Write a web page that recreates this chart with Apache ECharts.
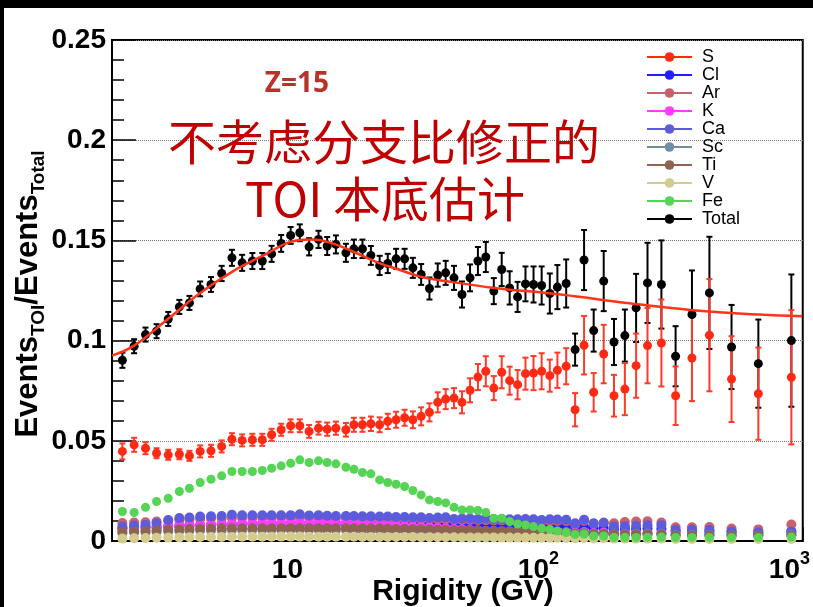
<!DOCTYPE html>
<html>
<head>
<meta charset="utf-8">
<script src="https://cdn.jsdelivr.net/npm/echarts@6/dist/echarts.min.js"></script>
<style>
html,body{margin:0;padding:0;background:#fff;}
#chart{width:813px;height:607px;}
</style>
</head>
<body>
<div id="chart"></div>
<script>
// Rigidity bin centres (GV)
const rigidity = [2.2,2.45,2.72,3.01,3.35,3.71,4.07,4.49,4.96,5.47,
  6.01,6.6,7.25,7.94,8.65,9.44,10.3,11.2,12.2,13.3,
  14.4,15.6,17.1,18.4,19.9,21.5,23.3,25.1,27.1,29.3,
  31.6,34.1,36.8,39.7,42.7,46.1,49.6,53.4,57.4,61.7,
  66.4,71.4,76.8,82.6,88.8,95.6,103,111,119,129,
  140,152,166,182,200,221,245,272,309,352,
  409,480,588,752,1018];

const totalVals = [0.0902,0.0972,0.1030,0.1047,0.1108,0.1168,0.1188,0.1258,0.1280,0.1335,
  0.1413,0.1388,0.1397,0.1397,0.1433,0.1485,0.1525,0.1538,0.1468,0.1505,
  0.1472,0.1480,0.1438,0.1458,0.1458,0.1425,0.1375,0.1385,0.1408,0.1408,
  0.1363,0.1330,0.1260,0.1327,0.1338,0.1313,0.1230,0.1313,0.1397,0.1417,
  0.1247,0.1355,0.1263,0.1218,0.1283,0.1280,0.1275,0.1235,0.1267,0.1285,
  0.0955,0.1402,0.1050,0.1297,0.0993,0.1025,0.1163,0.1288,0.1280,0.0922,
  0.1130,0.1238,0.0968,0.0885,0.1000];
const totalErr = [0.0038,0.0035,0.0035,0.0035,0.0035,0.0035,0.0035,0.0037,0.0037,0.0038,
  0.004,0.004,0.004,0.004,0.004,0.0042,0.0042,0.0042,0.0043,0.0043,
  0.0045,0.0045,0.0045,0.0046,0.0046,0.0047,0.0048,0.0048,0.005,0.005,
  0.005,0.0052,0.0055,0.0058,0.006,0.006,0.0065,0.0067,0.007,0.0075,
  0.0065,0.0083,0.0083,0.0075,0.0087,0.009,0.0095,0.01,0.011,0.012,
  0.008,0.015,0.0105,0.015,0.0115,0.013,0.017,0.02,0.022,0.015,
  0.022,0.028,0.021,0.022,0.033];

const sVals = [0.0447,0.0480,0.0463,0.0438,0.0430,0.0433,0.0425,0.0447,0.0450,0.0472,
  0.0508,0.0502,0.0505,0.0505,0.0530,0.0555,0.0575,0.0575,0.0547,0.0563,
  0.0558,0.0563,0.0555,0.0580,0.0580,0.0585,0.0580,0.0597,0.0605,0.0615,
  0.0605,0.0622,0.0642,0.0692,0.0708,0.0713,0.0692,0.0752,0.0818,0.0847,
  0.0763,0.0842,0.0800,0.0780,0.0835,0.0838,0.0847,0.0825,0.0852,0.0872,
  0.0655,0.0977,0.0742,0.0933,0.0725,0.0758,0.0875,0.0975,0.0988,0.0725,
  0.0913,0.1027,0.0808,0.0735,0.0817];
const sErr = [0.004,0.0035,0.003,0.0025,0.0025,0.0025,0.0025,0.003,0.003,0.003,
  0.003,0.003,0.003,0.003,0.003,0.003,0.0032,0.0032,0.0032,0.0032,
  0.0033,0.0033,0.0034,0.0035,0.0035,0.0036,0.0037,0.0038,0.004,0.004,
  0.0042,0.0045,0.0045,0.005,0.005,0.005,0.0055,0.006,0.0065,0.0075,
  0.006,0.008,0.007,0.0073,0.008,0.0085,0.009,0.008,0.0088,0.009,
  0.0083,0.0146,0.0096,0.0146,0.0104,0.013,0.016,0.0188,0.0217,0.0146,
  0.0215,0.028,0.0214,0.023,0.0335];

const clVals = [0.0062,0.0065,0.0068,0.0070,0.0073,0.0076,0.0078,0.0080,0.0081,0.0082,
  0.0083,0.0084,0.0085,0.0085,0.0085,0.0086,0.0086,0.0086,0.0086,0.0086,
  0.0086,0.0086,0.0085,0.0085,0.0085,0.0085,0.0085,0.0084,0.0084,0.0084,
  0.0083,0.0083,0.0082,0.0082,0.0082,0.0081,0.0081,0.0080,0.0080,0.0080,
  0.0079,0.0079,0.0078,0.0078,0.0078,0.0077,0.0077,0.0076,0.0076,0.0075,
  0.0065,0.0070,0.0062,0.0065,0.0058,0.0060,0.0060,0.0062,0.0060,0.0050,
  0.0050,0.0048,0.0045,0.0045,0.0048];
const arVals = [0.0090,0.0092,0.0094,0.0097,0.0100,0.0105,0.0108,0.0110,0.0112,0.0113,
  0.0115,0.0115,0.0116,0.0116,0.0116,0.0117,0.0117,0.0118,0.0116,0.0116,
  0.0115,0.0115,0.0114,0.0114,0.0113,0.0113,0.0112,0.0112,0.0111,0.0111,
  0.0110,0.0110,0.0108,0.0108,0.0108,0.0105,0.0105,0.0105,0.0104,0.0104,
  0.0103,0.0103,0.0102,0.0102,0.0102,0.0101,0.0100,0.0100,0.0100,0.0099,
  0.0082,0.0100,0.0086,0.0092,0.0088,0.0095,0.0097,0.0098,0.0092,0.0068,
  0.0068,0.0070,0.0062,0.0058,0.0082];
const kVals = [0.0060,0.0063,0.0066,0.0068,0.0072,0.0075,0.0077,0.0079,0.0080,0.0081,
  0.0085,0.0086,0.0087,0.0088,0.0088,0.0089,0.0090,0.0090,0.0090,0.0090,
  0.0090,0.0090,0.0089,0.0088,0.0087,0.0085,0.0083,0.0081,0.0078,0.0075,
  0.0072,0.0070,0.0068,0.0065,0.0063,0.0060,0.0058,0.0055,0.0053,0.0050,
  0.0050,0.0048,0.0047,0.0047,0.0046,0.0046,0.0045,0.0045,0.0044,0.0044,
  0.0042,0.0045,0.0040,0.0042,0.0038,0.0040,0.0040,0.0040,0.0040,0.0036,
  0.0036,0.0035,0.0034,0.0034,0.0036];
const caVals = [0.0072,0.0077,0.0080,0.0088,0.0105,0.0115,0.0117,0.0122,0.0123,0.0125,
  0.0131,0.0128,0.0128,0.0128,0.0128,0.0128,0.0128,0.0133,0.0127,0.0128,
  0.0126,0.0125,0.0125,0.0125,0.0123,0.0123,0.0122,0.0122,0.0120,0.0120,
  0.0118,0.0118,0.0115,0.0117,0.0118,0.0110,0.0112,0.0112,0.0110,0.0112,
  0.0110,0.0110,0.0108,0.0108,0.0110,0.0108,0.0105,0.0108,0.0107,0.0106,
  0.0088,0.0106,0.0088,0.0090,0.0072,0.0074,0.0076,0.0078,0.0078,0.0055,
  0.0056,0.0055,0.0048,0.0042,0.0046];
const scVals = [0.0040,0.0042,0.0044,0.0046,0.0048,0.0050,0.0051,0.0052,0.0053,0.0054,
  0.0055,0.0055,0.0056,0.0056,0.0056,0.0056,0.0056,0.0056,0.0056,0.0056,
  0.0055,0.0055,0.0055,0.0055,0.0054,0.0054,0.0054,0.0053,0.0053,0.0052,
  0.0052,0.0051,0.0051,0.0050,0.0050,0.0049,0.0049,0.0048,0.0048,0.0047,
  0.0047,0.0046,0.0046,0.0045,0.0045,0.0044,0.0044,0.0043,0.0043,0.0042,
  0.0038,0.0040,0.0036,0.0038,0.0034,0.0035,0.0035,0.0036,0.0035,0.0030,
  0.0030,0.0030,0.0028,0.0028,0.0030];
const tiVals = [0.0045,0.0048,0.0050,0.0053,0.0056,0.0058,0.0060,0.0061,0.0062,0.0063,
  0.0064,0.0064,0.0064,0.0064,0.0064,0.0064,0.0064,0.0064,0.0064,0.0064,
  0.0064,0.0064,0.0063,0.0063,0.0063,0.0062,0.0062,0.0061,0.0060,0.0060,
  0.0059,0.0058,0.0057,0.0056,0.0055,0.0054,0.0053,0.0052,0.0051,0.0050,
  0.0049,0.0048,0.0047,0.0046,0.0045,0.0044,0.0043,0.0042,0.0041,0.0040,
  0.0036,0.0038,0.0034,0.0035,0.0032,0.0033,0.0032,0.0033,0.0032,0.0028,
  0.0028,0.0027,0.0026,0.0026,0.0027];
const vVals = [0.0012,0.0014,0.0015,0.0016,0.0017,0.0018,0.0019,0.0020,0.0020,0.0020,
  0.0020,0.0021,0.0021,0.0021,0.0021,0.0022,0.0022,0.0022,0.0021,0.0021,
  0.0021,0.0021,0.0021,0.0021,0.0020,0.0020,0.0020,0.0020,0.0020,0.0020,
  0.0020,0.0019,0.0019,0.0019,0.0019,0.0019,0.0018,0.0018,0.0018,0.0018,
  0.0018,0.0017,0.0017,0.0017,0.0017,0.0016,0.0016,0.0016,0.0016,0.0015,
  0.0014,0.0015,0.0013,0.0014,0.0012,0.0012,0.0012,0.0012,0.0012,0.0010,
  0.0010,0.0010,0.0010,0.0010,0.0010];
const feVals = [0.0147,0.0142,0.0168,0.0197,0.0213,0.0247,0.0263,0.0292,0.0308,0.0325,
  0.0347,0.0347,0.0347,0.0352,0.0363,0.0375,0.0388,0.0405,0.0392,0.0400,
  0.0392,0.0385,0.0368,0.0358,0.0342,0.0335,0.0305,0.0292,0.0283,0.0272,
  0.0252,0.0230,0.0205,0.0197,0.0190,0.0168,0.0155,0.0155,0.0152,0.0142,
  0.0113,0.0113,0.0097,0.0085,0.0080,0.0072,0.0063,0.0058,0.0050,0.0042,
  0.0033,0.0035,0.0025,0.0025,0.0018,0.0018,0.0018,0.0018,0.0020,0.0018,
  0.0018,0.0018,0.0018,0.0018,0.0020];

// Fit curve
const fitX = [2.0,2.45,3.32,4.49,6.08,8.24,9.88,11.15,12.6,15.1,18.4,23.1,27.7,34.1,42.6,66.8,122.6,225,412,757,1125];
const fitY = [0.0925,0.0975,0.1105,0.1238,0.1347,0.1433,0.1485,0.1502,0.1505,0.1485,0.1442,0.1388,0.1355,0.1318,0.1297,0.1263,0.1230,0.1188,0.1152,0.1130,0.1122];

const yTicks = [0, 0.05, 0.1, 0.15, 0.2, 0.25];
const xTickPowers = [1, 2, 3];

const seriesDefs = [
  {name:'S', vals:sVals, color:'#ff2a14', size:9, dash:'solid'},
  {name:'Cl', vals:clVals, color:'#2020ff', size:10, dash:'solid'},
  {name:'Ar', vals:arVals, color:'#c9606c', size:10, dash:'solid'},
  {name:'K', vals:kVals, color:'#ff3cff', size:10, dash:'solid'},
  {name:'Ca', vals:caVals, color:'#5b5bdc', size:10, dash:'solid'},
  {name:'Sc', vals:scVals, color:'#6f8ea6', size:10, dash:'solid'},
  {name:'Ti', vals:tiVals, color:'#8c6451', size:10, dash:'solid'},
  {name:'V', vals:vVals, color:'#d4cb8c', size:10, dash:'solid'},
  {name:'Fe', vals:feVals, color:'#55d455', size:9, dash:'solid'},
  {name:'Total', vals:totalVals, color:'#000000', size:9, dash:'solid'}
];

function errorBars(id, ys, errs, color) {
  return {
    type: 'custom', name: id, silent: true, clip: true,
    encode: {x: 0, y: 1},
    data: rigidity.map((x, i) => [x, ys[i], errs[i]]),
    renderItem: function (params, api) {
      const x = api.value(0), y = api.value(1), e = api.value(2);
      const t = api.coord([x, y + e]);
      const b = api.coord([x, y - e]);
      const c = 3;
      const st = {stroke: color, lineWidth: 2};
      return {type: 'group', children: [
        {type: 'line', shape: {x1: t[0], y1: t[1], x2: b[0], y2: b[1]}, style: st},
        {type: 'line', shape: {x1: t[0]-c, y1: t[1], x2: t[0]+c, y2: t[1]}, style: st},
        {type: 'line', shape: {x1: b[0]-c, y1: b[1], x2: b[0]+c, y2: b[1]}, style: st}
      ]};
    }
  };
}

function pointSeries(d) {
  return {
    type: 'line', name: d.name, color: d.color,
    data: rigidity.map((x, i) => [x, d.vals[i]]),
    symbol: 'circle', symbolSize: d.size, showAllSymbol: true,
    lineStyle: {width: 0, opacity: 0},
    itemStyle: {color: d.color},
    emphasis: {disabled: true}
  };
}

const series = [];
series.push(errorBars('Total_err', totalVals, totalErr, '#000000'));
series.push(errorBars('S_err', sVals, sErr, '#ff3a28'));
seriesDefs.forEach(d => series.push(pointSeries(d)));
series.push({
  type: 'line', name: 'fit', data: fitX.map((x, i) => [x, fitY[i]]),
  smooth: 0.4, symbol: 'none', lineStyle: {color: '#ff3418', width: 2.5},
  emphasis: {disabled: true}, z: 5
});

const FONT = 'Liberation Sans';

const option = {
  animation: false,
  backgroundColor: '#ffffff',
  grid: {left: 112, right: 6, top: 40, bottom: 66, show: true, borderColor: '#000', borderWidth: 2, backgroundColor: 'transparent'},
  xAxis: {
    type: 'log', logBase: 10, min: 2, max: 1130,
    axisLine: {show: true, lineStyle: {color: '#000', width: 2}},
    axisTick: {show: true, inside: true, length: 14, lineStyle: {color: '#000', width: 1.5}},
    splitLine: {show: false},
    axisLabel: {
      margin: 9, color: '#000', fontFamily: FONT, fontWeight: 'bold', fontSize: 28, lineHeight: 40,
      showMinLabel: true, showMaxLabel: true,
      formatter: function (v) {
        const l = Math.log10(v), r = Math.round(l);
        if (Math.abs(l - r) > 1e-6 || xTickPowers.indexOf(r) < 0) return '';
        if (r === 1) return '10';
        return '10{s|' + r + '}';
      },
      rich: {s: {fontFamily: FONT, fontWeight: 'bold', fontSize: 18, color: '#000', verticalAlign: 'top', lineHeight: 18}}
    }
  },
  yAxis: {
    type: 'value', min: yTicks[0], max: yTicks[yTicks.length - 1], interval: 0.05,
    axisLine: {show: true, lineStyle: {color: '#000', width: 2}},
    axisTick: {show: true, inside: true, length: 24, lineStyle: {color: '#000', width: 1.5}},
    minorTick: {show: true, splitNumber: 5, length: 12, lineStyle: {color: '#000', width: 1.5}},
    splitLine: {show: true, lineStyle: {color: '#777', type: 'dotted', width: 1}},
    axisLabel: {
      margin: 6, color: '#000', fontFamily: FONT, fontWeight: 'bold', fontSize: 28,
      formatter: function (v) { return v === 0 ? '0' : String(parseFloat(v.toFixed(2))); }
    }
  },
  legend: {
    orient: 'vertical', left: 641, top: 43, itemWidth: 45, itemHeight: 12, itemGap: 0,
    data: seriesDefs.map(d => ({name: d.name, lineStyle: {width: 2, opacity: 1, color: d.color, type: d.dash}})),
    textStyle: {fontFamily: FONT, fontSize: 18, color: '#000', padding: [0, 0, 0, 5]},
    selectedMode: false
  },
  graphic: [
    {type: 'rect', z: 100, shape: {x: 0, y: 0, width: 813, height: 8}, style: {fill: '#000'}},
    {type: 'rect', z: 100, shape: {x: 0, y: 0, width: 4, height: 607}, style: {fill: '#000'}},
    {type: 'text', z: 100, x: 297, y: 84, style: {text: 'Z=15', fill: '#b8322a', font: 'bold 28px "Noto Sans"', align: 'center', verticalAlign: 'middle'}},
    {type: 'text', z: 100, x: 384, y: 142, style: {text: '不考虑分支比修正的', fill: '#c00000', font: '48px "Noto Sans CJK SC"', align: 'center', verticalAlign: 'middle'}},
    {type: 'text', z: 100, x: 385, y: 199, style: {text: 'TOI 本底估计', fill: '#c00000', font: '48px "Noto Sans CJK SC"', align: 'center', verticalAlign: 'middle'}},
    {type: 'text', z: 100, x: 463, y: 592, style: {text: 'Rigidity (GV)', fill: '#000', font: 'bold 30px "Liberation Sans"', align: 'center', verticalAlign: 'middle'}},
    {type: 'text', z: 100, x: 28, y: 294, rotation: Math.PI / 2,
      style: {
        text: '{m|Events}{s|TOI}{m|/Events}{s|Total}', align: 'center', verticalAlign: 'middle',
        rich: {
          m: {fontFamily: FONT, fontWeight: 'bold', fontSize: 31, fill: '#000', lineHeight: 40, verticalAlign: 'middle'},
          s: {fontFamily: FONT, fontWeight: 'bold', fontSize: 19, fill: '#000', lineHeight: 19, verticalAlign: 'bottom'}
        }
      }}
  ],
  series: series
};

const chart = echarts.init(document.getElementById('chart'));
chart.setOption(option);
</script>
</body>
</html>
